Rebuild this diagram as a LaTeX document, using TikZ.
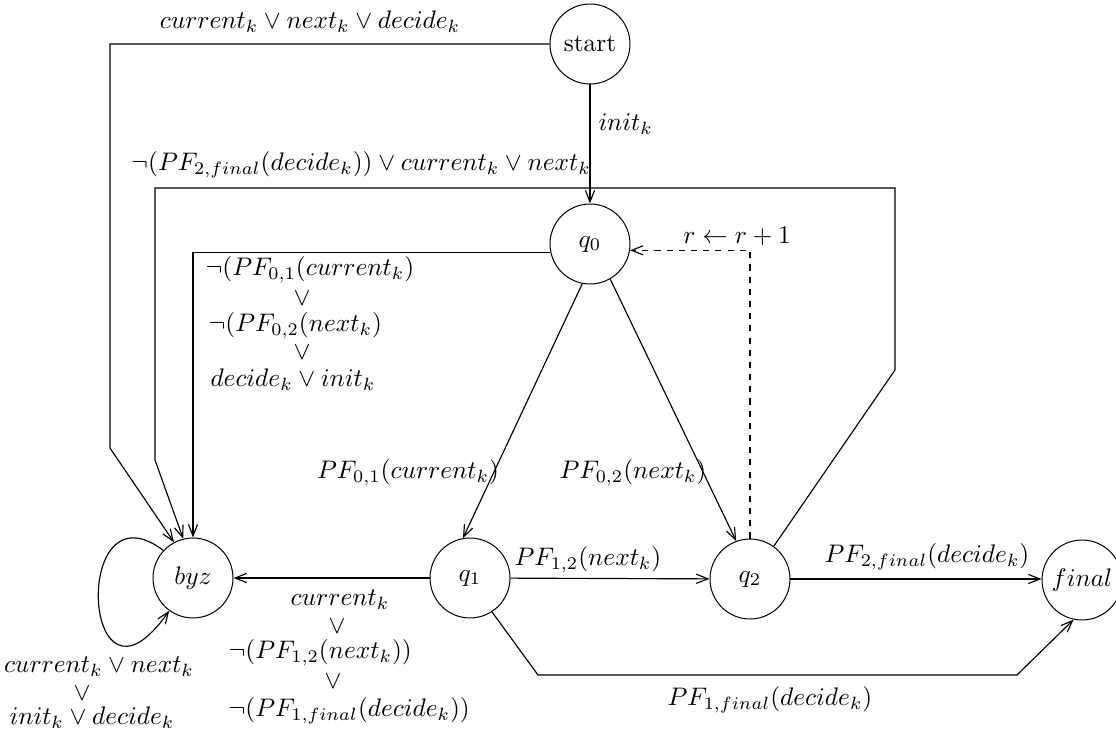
\documentclass[tikz,border=0pt]{standalone}
\usetikzlibrary{arrows.meta}
\begin{document}
\begin{tikzpicture}[x=0.394pt,y=-0.394pt,
  st/.style={draw,circle,minimum size=31.5pt,inner sep=0pt},
  lbl/.style={inner sep=0pt},
  edge/.style={-{Straight Barb[length=4.6pt,width=3.6pt]},line width=0.45pt},
  dedge/.style={edge,dash pattern=on 2.4pt off 2.4pt}]
\useasboundingbox (0,0) rectangle (1116,736);
% states
\node[st] (start) at (590,44) {start};
\node[st] (q0) at (590,244) {$q_0$};
\node[st] (q1) at (470,578) {$q_1$};
\node[st] (q2) at (750,579) {$q_2$};
\node[st] (byz) at (193,578) {$byz$};
\node[st] (final) at (1082,580) {$final$};
% corner points
\coordinate (a1) at (110,44);
\coordinate (a2) at (110,448);
\coordinate (b1) at (895,370);
\coordinate (b2) at (895,188);
\coordinate (b3) at (155,188);
\coordinate (b4) at (155,460);
\coordinate (c1) at (538,675);
\coordinate (c2) at (1017,675);
% edges
\draw[edge] (start) -- (q0);
\draw[edge] (start.west) -- (a1) -- (a2) -- (byz.118);
\draw[edge] (q2.54) -- (b1) -- (b2) -- (b3) -- (b4) -- (byz.104);
\draw[edge] (q0.192) -| (byz.north);
\draw[edge] (q0.259) -- (q1.100);
\draw[edge] (q0.300) -- (q2.110);
\draw[dedge] (q2.north) |- (q0.351);
\draw[edge] (q1) -- (q2);
\draw[edge] (q1) -- (byz);
\draw[edge] (q2.east) -- (q2.east -| final.west);
\draw[edge] (q1.-57) -- (c1) -- (c2) -- (final.258);
\draw[edge] (byz.137) .. controls (70,480) and (82,735) .. (byz.234);
% labels
\node[lbl] (l1) at (310,22) {$current_k \vee next_k \vee decide_k$};
\node[lbl,anchor=west] (l2) at (598,124) {$init_k$};
\node[lbl] (l3) at (361,165) {$\neg(PF_{2,final}(decide_k)) \vee current_k \vee next_k$};
\node[lbl,anchor=west] (l4a) at (205,270) {$\neg(PF_{0,1}(current_k)$};
\node[lbl] (l4b) at (302,298) {$\vee$};
\node[lbl,anchor=west] (l4c) at (208,326) {$\neg(PF_{0,2}(next_k)$};
\node[lbl] (l4d) at (302,352) {$\vee$};
\node[lbl,anchor=west] (l4e) at (210,380) {$decide_k \vee init_k$};
\node[lbl] (l5) at (408,473) {$PF_{0,1}(current_k)$};
\node[lbl] (l6) at (633,473) {$PF_{0,2}(next_k)$};
\node[lbl] (l7) at (737,236) {$r \leftarrow r+1$};
\node[lbl] (l8) at (588,560) {$PF_{1,2}(next_k)$};
\node[lbl] (l9) at (927,557) {$PF_{2,final}(decide_k)$};
\node[lbl] (l10) at (770,700) {$PF_{1,final}(decide_k)$};
\node[lbl] (l11a) at (340,600) {$current_k$};
\node[lbl] (l11b) at (337,626) {$\vee$};
\node[lbl,anchor=west] (l11c) at (228,653) {$\neg(PF_{1,2}(next_k))$};
\node[lbl] (l11d) at (333,681) {$\vee$};
\node[lbl,anchor=west] (l11e) at (228,711) {$\neg(PF_{1,final}(decide_k))$};
\node[lbl] (l12a) at (99,667) {$current_k \vee next_k$};
\node[lbl] (l12b) at (82,693) {$\vee$};
\node[lbl] (l12c) at (92,718) {$init_k \vee decide_k$};
\end{tikzpicture}
\end{document}
